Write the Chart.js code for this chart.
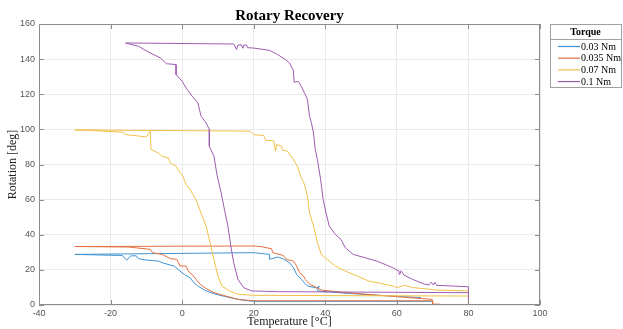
<!DOCTYPE html>
<html>
<head>
<meta charset="utf-8">
<script src="https://cdn.jsdelivr.net/npm/chart.js@4"></script>
<style>
  html, body { margin: 0; padding: 0; background: #fff; }
  canvas { display: block; }
</style>
</head>
<body>
<canvas id="chart" width="623" height="329"></canvas>
<script>
// axis ticks
const xTicks = [-40, -20, 0, 20, 40, 60, 80, 100];
const yTicks = [0, 20, 40, 60, 80, 100, 120, 140, 160];
const labels = ['0.03 Nm', '0.035 Nm', '0.07 Nm', '0.1 Nm'];

// 0.03 Nm (null = break in line)
const blueX = [66.7, 55, 45, 37.8, 38.3, 37.6, 37.2, 35, 33.3, 32, 31.1, 30, 28, 26.7, 24.4, 24.4, 20, -30,
  -16.7, -15.5, -14.4, -12.8, -12.2, -10, -6.7, -5.6, -3.3, -2.2, -0.6, 0.6, 2.2, 3.3, 4.4, 6.7, 9.4, 13.3, 16.7, 20, 70,
  30, 21, 30];
const blueY = [4.2, 5.5, 6.8, 8, 10.8, 9.5, 9.9, 10.8, 14.6, 17.4, 21.2, 24.1, 26.5, 27.3, 26, 28.8, 29.8, 28.8,
  28.2, 25.5, 28, 28, 26.4, 25.6, 25, 24.1, 22.7, 22.2, 19.3, 17.4, 15.5, 12.7, 10.8, 8, 6.1, 4.2, 2.8, 2.1, 2.1,
  null, 0, 0];

// 0.035 Nm
const orangeX = [70, 55, 45, 38.9, 37.2, 35.6, 34.4, 33.9, 32.8, 32, 31.1, 29.1, 28.3, 25.3, 25, 22.2, 20, -30,
  -15, -8.9, -8.3, -5.6, -3.3, -1.5, -0.6, 1.1, 1.7, 2.8, 3.9, 5, 6.7, 8.9, 12.2, 15.6, 20, 70, 70, 72];
const orangeY = [3.2, 5.5, 7.2, 8.5, 10.4, 11.8, 14.6, 16.5, 18.4, 22.2, 25, 26, 28.2, 29.8, 32, 33.2, 33.6, 33.3,
  33, 31.7, 29.8, 28.8, 26.4, 26, 22.2, 22.2, 19.3, 17.4, 14.6, 11.8, 9.3, 7, 5.1, 3.2, 2.4, 2.4, 0.5, 0.5];

// 0.07 Nm
const yellowX = [29, 80, 80, 71.1, 67.8, 64.4, 62.2, 60, 58.9, 55.6, 52.2, 48.9, 45.6, 42.8, 41.1, 38.9, 37.8, 36.7,
  35.6, 35, 34.2, 33.1, 32.2, 31.1, 29.4, 28, 27.8, 26.4, 26.1, 25.6, 23.3, 22.8, 20, 19, -30,
  -25, -16.7, -15.6, -10, -8.9, -8.7, -6.7, -5.6, -3.9, -3.3, -1.7, -0.6, 0.2, 1.1, 2.2, 3.3, 4.2, 5.6, 6.7, 7.8,
  8.9, 10, 11.1, 13.3, 15.6, 20, 80];
const yellowY = [0, 0, 8, 8.5, 9.3, 9.9, 11.2, 9.9, 10.8, 12.3, 13.6, 16.5, 19.3, 22.2, 25, 28.8, 35.5, 45,
  52.5, 62, 68.6, 73.4, 79, 82.8, 87.6, 88.2, 90.4, 91.4, 87.6, 93.5, 93.8, 96.5, 97, 99, 99.7,
  99.3, 98.4, 97, 95.7, 99, 88.5, 86.6, 84.7, 83.8, 81, 79, 75.3, 73.4, 68.6, 65.8, 62, 58.2, 50.6, 44.9, 35.5,
  26, 16.5, 10.8, 8, 6.1, 5.5, 5.1];

// 0.1 Nm
const purpleX = [56, 80, 80, 71.1, 70.6, 70.2, 69.6, 69, 67.8, 64.4, 62, 61.2, 60.8, 60.6, 58.9, 56.7, 54.4, 51.1,
  47.8, 45.6, 44.4, 42.8, 41.1, 40.2, 39.4, 38.7, 37.8, 37.2, 36.7, 36.1, 35.6, 35, 34.4, 33.3, 32.4, 31.3, 31.1,
  30, 28.9, 26.7, 24.4, 20, 18.3, 18, 17.2, 17, 16.5, 15.6, 15.2, 14.4, -15.8,
  -12.2, -8.9, -6.1, -4.4, -1.7, -1.7, 0, 1.1, 2.8, 4.4, 5.3, 6.7, 7.6, 7.6, 8.9, 9.8, 10.9, 12, 12.8, 13.6, 14.4,
  15.6, 17.2, 19.4, 26.7, 80];
const purpleY = [0, 0, 10.4, 11.2, 13, 11.4, 13, 11.5, 11.8, 14.6, 17, 19.5, 17.5, 19.3, 21.2, 23.1, 25, 26.9,
  28.8, 32.6, 37.3, 40.2, 45, 52.5, 60.1, 71.5, 82.8, 88.5, 98, 104, 107.5, 117, 119.8, 124.5, 127.4, 126.8, 133.6,
  137.8, 139.7, 142.6, 145, 146.3, 146.5, 148, 148, 146.2, 148.2, 148, 145.5, 148.6, 149.2,
  147.3, 143.5, 140.7, 137.4, 136.9, 131.2, 127.4, 123.6, 118.9, 115, 107.5, 103.7, 99.9, 90.4, 84.7, 73.4, 63.9,
  52.5, 44.9, 33.6, 24.1, 14.6, 9.9, 8, 7.6, 7];

const colors = ['#3f92d2', '#e2703f', '#f2c048', '#9d5cb0'];

const toPoints = (xs, ys) => xs.map((x, i) => ({ x: x, y: ys[i] }));
const series = [[blueX, blueY], [orangeX, orangeY], [yellowX, yellowY], [purpleX, purpleY]];

const serif = "'Liberation Serif', 'DejaVu Serif', serif";
const sans = "'Liberation Sans', Arial, sans-serif";

// title, box with inner ticks and the boxed legend
const extras = {
    id: 'extras',
    afterDraw(c) {
        const ctx = c.ctx;
        const a = c.chartArea;
        const xs = c.scales.x, ys = c.scales.y;
        ctx.save();
        ctx.strokeStyle = '#8c8c8c';
        ctx.lineWidth = 1;
        ctx.strokeRect(a.left + 0.5, a.top + 0.5, a.right - a.left - 1, a.bottom - a.top - 1);
        ctx.beginPath();
        xTicks.forEach(t => {
            const px = Math.round(xs.getPixelForValue(t)) + 0.5;
            ctx.moveTo(px, a.bottom); ctx.lineTo(px, a.bottom - 5);
            ctx.moveTo(px, a.top); ctx.lineTo(px, a.top + 5);
        });
        yTicks.forEach(t => {
            const py = Math.round(ys.getPixelForValue(t)) + 0.5;
            ctx.moveTo(a.left, py); ctx.lineTo(a.left + 5, py);
            ctx.moveTo(a.right, py); ctx.lineTo(a.right - 5, py);
        });
        ctx.stroke();

        // title
        ctx.fillStyle = '#000';
        ctx.font = 'bold 15px ' + serif;
        ctx.textAlign = 'center';
        ctx.textBaseline = 'middle';
        ctx.fillText('Rotary Recovery', (a.left + a.right) / 2, 16);

        // legend
        const lx = 550, ly = 24, lw = 71, lh = 63;
        ctx.fillStyle = '#fff';
        ctx.fillRect(lx, ly, lw, lh);
        ctx.strokeStyle = '#a0a0a0';
        ctx.strokeRect(lx + 0.5, ly + 0.5, lw, lh);
        ctx.beginPath();
        ctx.moveTo(lx, ly + 15.5); ctx.lineTo(lx + lw, ly + 15.5);
        ctx.stroke();
        ctx.fillStyle = '#000';
        ctx.font = 'bold 10px ' + serif;
        ctx.fillText('Torque', lx + lw / 2, ly + 8);
        ctx.font = '10px ' + serif;
        ctx.textAlign = 'left';
        labels.forEach((l, i) => {
            const y = ly + 22.5 + i * 11.7;
            ctx.strokeStyle = colors[i];
            ctx.lineWidth = 1.2;
            ctx.beginPath();
            ctx.moveTo(558, y); ctx.lineTo(580, y);
            ctx.stroke();
            ctx.fillStyle = '#000';
            ctx.fillText(l, 581, y + 0.5);
        });
        ctx.restore();
    }
};

new Chart(document.getElementById('chart').getContext('2d'), {
    type: 'scatter',
    data: {
        datasets: series.map((s, i) => ({
            label: labels[i],
            data: toPoints(s[0], s[1]),
            showLine: true,
            borderColor: colors[i],
            backgroundColor: colors[i],
            borderWidth: 1,
            pointRadius: 0,
            tension: 0,
            spanGaps: false,
            order: 4 - i
        }))
    },
    options: {
        responsive: false,
        animation: false,
        layout: { padding: { top: 24, right: 83, left: 0, bottom: 0 } },
        plugins: {
            legend: { display: false },
            title: { display: false },
            tooltip: { enabled: false }
        },
        scales: {
            x: {
                type: 'linear',
                min: -40, max: 100,
                afterBuildTicks: s => { s.ticks = xTicks.map(v => ({ value: v })); },
                afterFit: s => { s.height = 24; },
                grid: { color: '#ebebeb', drawTicks: false },
                border: { display: false },
                ticks: { color: '#555', font: { family: sans, size: 9 }, padding: 3, maxRotation: 0 },
                title: { display: true, text: 'Temperature [°C]', color: '#222', font: { family: serif, size: 12 }, padding: { top: 0, bottom: 0 } }
            },
            y: {
                type: 'linear',
                min: 0, max: 160,
                afterBuildTicks: s => { s.ticks = yTicks.map(v => ({ value: v })); },
                afterFit: s => { s.width = 39; },
                grid: { color: '#ebebeb', drawTicks: false },
                border: { display: false },
                ticks: { color: '#555', font: { family: sans, size: 9 }, padding: 4 },
                title: { display: true, text: 'Rotation [deg]', color: '#222', font: { family: serif, size: 12 }, padding: { top: 6, bottom: 0 } }
            }
        }
    },
    plugins: [extras]
});
</script>
</body>
</html>
